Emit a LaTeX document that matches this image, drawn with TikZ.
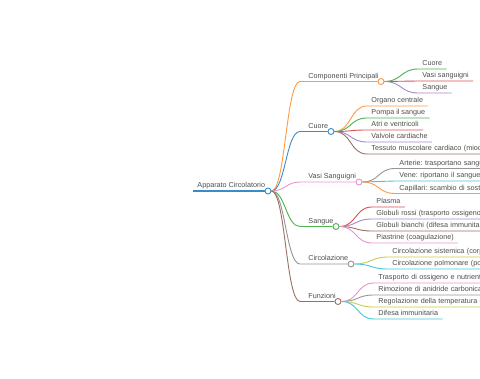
\documentclass[tikz,border=0pt]{standalone}
\usepackage{fontspec}
\setmainfont{Liberation Sans}
\frenchspacing
\definecolor{cblue}{HTML}{3A8CC8}
\definecolor{corange}{HTML}{FF9A40}
\definecolor{cgreen}{HTML}{4DB34D}
\definecolor{cred}{HTML}{DE4E4F}
\definecolor{cpurple}{HTML}{A488CC}
\definecolor{cbrown}{HTML}{9C6F66}
\definecolor{cpink}{HTML}{EA92CE}
\definecolor{cgray}{HTML}{959595}
\definecolor{colive}{HTML}{CACB4A}
\definecolor{ccyan}{HTML}{40CAD8}
\begin{document}
\begin{tikzpicture}[x=1pt,y=-1pt,line width=0.9pt,
  lbl/.style={anchor=south west,inner xsep=4pt,inner ysep=1pt,text height=5.2pt,text depth=1.6pt,font=\fontsize{7.2}{8}\selectfont,text=black!70},
  br/.style={lbl,inner xsep=8pt},
  cut/.style={text width=150pt,align=left},
  dot/.style={circle,draw,fill=white,inner sep=0pt,minimum size=6pt,line width=0.9pt}]
\useasboundingbox (0,0) rectangle (480,379);
\clip (0,0) rectangle (480,379);

% root
\node[lbl] (root) at (193,191) {Apparato Circolatorio};
\node[dot,draw=cblue] (rootC) at (268,191) {};
\draw[cblue,line width=1.2pt] (root.south west) -- (rootC.west);

% branches
\node[br] (comp) at (300,81.5) {Componenti Principali};
\node[dot,draw=corange] (compC) at (381,81.5) {};
\draw[corange] (rootC.east) .. controls +(14,0) and +(-14,0) .. (comp.south west) -- (compC.west);
\node[br] (cuore) at (300,131.5) {Cuore};
\node[dot,draw=cblue] (cuoreC) at (331,131.5) {};
\draw[cblue] (rootC.east) .. controls +(14,0) and +(-14,0) .. (cuore.south west) -- (cuoreC.west);
\node[br] (vasi) at (300,182) {Vasi Sanguigni};
\node[dot,draw=cpink] (vasiC) at (359,182) {};
\draw[cpink] (rootC.east) .. controls +(14,0) and +(-14,0) .. (vasi.south west) -- (vasiC.west);
\node[br] (sangue) at (300,226.5) {Sangue};
\node[dot,draw=cgreen] (sangueC) at (336,226.5) {};
\draw[cgreen] (rootC.east) .. controls +(14,0) and +(-14,0) .. (sangue.south west) -- (sangueC.west);
\node[br] (circ) at (300,264) {Circolazione};
\node[dot,draw=cgray] (circC) at (351,264) {};
\draw[cgray] (rootC.east) .. controls +(14,0) and +(-14,0) .. (circ.south west) -- (circC.west);
\node[br] (funz) at (300,301.5) {Funzioni};
\node[dot,draw=cbrown] (funzC) at (338,301.5) {};
\draw[cbrown] (rootC.east) .. controls +(14,0) and +(-14,0) .. (funz.south west) -- (funzC.west);

% Componenti Principali
\node[lbl] (compCuore) at (418,69) {Cuore};
\draw[cgreen] (compC.east) .. controls +(17,0) and +(-17,0) .. (compCuore.south west) -- (compCuore.south east);
\node[lbl] (compVasi) at (418,81) {Vasi sanguigni};
\draw[cred] (compC.east) .. controls +(17,0) and +(-17,0) .. (compVasi.south west) -- (compVasi.south east);
\node[lbl] (compSangue) at (418,93) {Sangue};
\draw[cpurple] (compC.east) .. controls +(17,0) and +(-17,0) .. (compSangue.south west) -- (compSangue.south east);

% Cuore
\node[lbl] (organo) at (367,106) {Organo centrale};
\draw[corange] (cuoreC.east) .. controls +(17,0) and +(-17,0) .. (organo.south west) -- (organo.south east);
\node[lbl] (pompa) at (367,118) {Pompa il sangue};
\draw[cgreen] (cuoreC.east) .. controls +(17,0) and +(-17,0) .. (pompa.south west) -- (pompa.south east);
\node[lbl] (atri) at (367,130) {Atri e ventricoli};
\draw[cred] (cuoreC.east) .. controls +(17,0) and +(-17,0) .. (atri.south west) -- (atri.south east);
\node[lbl] (valvole) at (367,142) {Valvole cardiache};
\draw[cpurple] (cuoreC.east) .. controls +(17,0) and +(-17,0) .. (valvole.south west) -- (valvole.south east);
\node[lbl,cut] (tessuto) at (367,154) {Tessuto muscolare cardiaco (mioc};
\draw[cbrown] (cuoreC.east) .. controls +(17,0) and +(-17,0) .. (tessuto.south west) -- (tessuto.south east);

% Vasi Sanguigni
\node[lbl,cut] (arterie) at (395,168.5) {Arterie: trasportano sangu};
\draw[cgray] (vasiC.east) .. controls +(17,0) and +(-17,0) .. (arterie.south west) -- (arterie.south east);
\node[lbl,cut] (vene) at (395,181) {Vene: riportano il sangue};
\draw[ccyan] (vasiC.east) .. controls +(17,0) and +(-17,0) .. (vene.south west) -- (vene.south east);
\node[lbl,cut] (capillari) at (395,193.5) {Capillari: scambio di sosta};
\draw[corange] (vasiC.east) .. controls +(17,0) and +(-17,0) .. (capillari.south west) -- (capillari.south east);

% Sangue
\node[lbl] (plasma) at (372,207) {Plasma};
\draw[cred] (sangueC.east) .. controls +(17,0) and +(-17,0) .. (plasma.south west) -- (plasma.south east);
\node[lbl,cut] (rossi) at (372,219) {Globuli rossi (trasporto ossigeno)};
\draw[cpurple] (sangueC.east) .. controls +(17,0) and +(-17,0) .. (rossi.south west) -- (rossi.south east);
\node[lbl,cut] (bianchi) at (372,231) {Globuli bianchi (difesa immunitar};
\draw[cbrown] (sangueC.east) .. controls +(17,0) and +(-17,0) .. (bianchi.south west) -- (bianchi.south east);
\node[lbl] (piastrine) at (372,243) {Piastrine (coagulazione)};
\draw[cpink] (sangueC.east) .. controls +(17,0) and +(-17,0) .. (piastrine.south west) -- (piastrine.south east);

% Circolazione
\node[lbl,cut] (sistemica) at (388,257) {Circolazione sistemica (corp};
\draw[colive] (circC.east) .. controls +(17,0) and +(-17,0) .. (sistemica.south west) -- (sistemica.south east);
\node[lbl,cut] (polmonare) at (388,269) {Circolazione polmonare (pol};
\draw[ccyan] (circC.east) .. controls +(17,0) and +(-17,0) .. (polmonare.south west) -- (polmonare.south east);

% Funzioni
\node[lbl,cut] (trasporto) at (374,283) {Trasporto di ossigeno e nutrienti};
\draw[cpink] (funzC.east) .. controls +(17,0) and +(-17,0) .. (trasporto.south west) -- (trasporto.south east);
\node[lbl,cut] (rimozione) at (374,295) {Rimozione di anidride carbonica};
\draw[cgray] (funzC.east) .. controls +(17,0) and +(-17,0) .. (rimozione.south west) -- (rimozione.south east);
\node[lbl,cut] (regolazione) at (374,307) {Regolazione della temperatura c};
\draw[colive] (funzC.east) .. controls +(17,0) and +(-17,0) .. (regolazione.south west) -- (regolazione.south east);
\node[lbl] (difesa) at (374,319) {Difesa immunitaria};
\draw[ccyan] (funzC.east) .. controls +(17,0) and +(-17,0) .. (difesa.south west) -- (difesa.south east);
\end{tikzpicture}
\end{document}
